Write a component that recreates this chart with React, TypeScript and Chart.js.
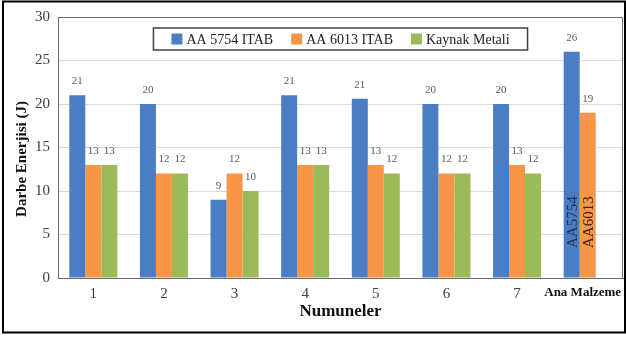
import React, { useEffect, useRef } from "react";
import { Chart, registerables } from "chart.js";

Chart.register(...registerables);

const categories = ["1", "2", "3", "4", "5", "6", "7", "Ana Malzeme"];
const seriesNames = ["AA 5754 ITAB", "AA 6013 ITAB", "Kaynak Metali"];
const aa5754 = [21, 20, 9, 21, 20.6, 20, 20, 26];
const aa6013 = [13, 12, 12, 13, 13, 12, 13, 19];
const kaynak: (number | null)[] = [13, 12, 10, 13, 12, 12, 12, null];
const yTicks = [0, 5, 10, 15, 20, 25, 30];
const innerLabels = ["AA5754", "AA6013"];
const xTitle = "Numuneler";
const yTitle = "Darbe Enerjisi (J)";

const colors = ["#4A7DC4", "#F79646", "#9BBB59"];
const innerTextColors = ["#1B2F55", "#3A2614"];
const SERIF = "'Liberation Serif', 'DejaVu Serif', serif";
const LAST = categories.length - 1;

const decorPlugin = {
  id: "decor",
  afterDatasetsDraw(chart: any) {
    const ctx = chart.ctx;
    const yScale = chart.scales.y;
    chart.data.datasets.forEach((ds: any, di: number) => {
      const meta = chart.getDatasetMeta(di);
      meta.data.forEach((bar: any, i: number) => {
        const v = ds.data[i];
        if (v == null) return;
        ctx.save();
        ctx.fillStyle = "#595959";
        ctx.font = `11px ${SERIF}`;
        ctx.textAlign = "center";
        ctx.textBaseline = "middle";
        ctx.fillText(String(Math.round(v)), bar.x, bar.y - 14);
        ctx.restore();
      });
    });
    // rotated labels inside last category bars
    innerLabels.forEach((txt, di) => {
      const bar = chart.getDatasetMeta(di).data[LAST];
      if (!bar) return;
      const base = yScale.getPixelForValue(0);
      ctx.save();
      ctx.translate(bar.x, base - 30);
      ctx.rotate(-Math.PI / 2);
      ctx.fillStyle = innerTextColors[di];
      ctx.font = `15px ${SERIF}`;
      ctx.textAlign = "left";
      ctx.textBaseline = "middle";
      ctx.fillText(txt, 0, 1);
      ctx.restore();
    });
  },
  afterDraw(chart: any) {
    const ctx = chart.ctx;
    const a = chart.chartArea;
    ctx.save();
    // plot border
    ctx.strokeStyle = "#6b6b6b";
    ctx.lineWidth = 1;
    ctx.strokeRect(a.left + 0.5, a.top + 0.5, a.right - a.left - 1, a.bottom - a.top);

    // last category label (shifted left so it stays inside the frame)
    const xs = chart.scales.x;
    ctx.font = `bold 13px ${SERIF}`;
    ctx.fillStyle = "#111";
    ctx.textAlign = "center";
    ctx.textBaseline = "middle";
    ctx.fillText(categories[LAST], xs.getPixelForValue(LAST) - 5, a.bottom + 15);

    // legend (boxed, inside plot area)
    ctx.font = `14px ${SERIF}`;
    const sq = 11, gapText = 4, gapItem = 18, margin = 18;
    const items = chart.data.datasets.map((ds: any) => ({
      label: ds.label,
      color: ds.backgroundColor,
      w: sq + gapText + ctx.measureText(ds.label).width,
    }));
    const total = items.reduce((s: number, it: any) => s + it.w, 0) + gapItem * (items.length - 1);
    const cx = (a.left + a.right) / 2;
    const boxTop = a.top + 11;
    const boxH = 22;
    const cy = boxTop + boxH / 2;
    let x = cx - total / 2;
    ctx.fillStyle = "#fff";
    ctx.fillRect(x - margin, boxTop, total + margin * 2, boxH);
    ctx.strokeStyle = "#404040";
    ctx.lineWidth = 1.5;
    ctx.strokeRect(x - margin, boxTop, total + margin * 2, boxH);
    ctx.textAlign = "left";
    ctx.textBaseline = "middle";
    items.forEach((it: any) => {
      ctx.fillStyle = it.color;
      ctx.fillRect(x, cy - sq / 2, sq, sq);
      ctx.fillStyle = "#222";
      ctx.fillText(it.label, x + sq + gapText, cy + 1);
      x += it.w + gapItem;
    });

    // y-axis title
    ctx.save();
    ctx.translate(22, 159);
    ctx.rotate(-Math.PI / 2);
    ctx.font = `bold 15px ${SERIF}`;
    ctx.fillStyle = "#111";
    ctx.textAlign = "center";
    ctx.textBaseline = "middle";
    ctx.fillText(yTitle, 0, 0);
    ctx.restore();

    // outer frame
    ctx.strokeStyle = "#000";
    ctx.lineWidth = 2;
    ctx.strokeRect(3, 1.5, 622, 331);
    ctx.restore();
  },
};

export default function App() {
  const ref = useRef<HTMLCanvasElement | null>(null);
  useEffect(() => {
    if (!ref.current) return;
    const data = [aa5754, aa6013, kaynak];
    const chart = new Chart(ref.current, {
      type: "bar",
      data: {
        labels: categories,
        datasets: seriesNames.map((name, i) => ({
          label: name,
          data: data[i] as any,
          backgroundColor: colors[i],
          borderWidth: 0,
          categoryPercentage: 0.68,
          barPercentage: 1,
        })),
      },
      options: {
        responsive: false,
        animation: false,
        layout: { padding: { left: 4, top: 17, right: 3, bottom: 12 } },
        plugins: {
          legend: { display: false },
          tooltip: { enabled: false },
        },
        scales: {
          x: {
            grid: { display: false },
            border: { display: true, color: "#6b6b6b" },
            ticks: {
              autoSkip: false,
              maxRotation: 0,
              minRotation: 0,
              padding: -1,
              color: "#404040",
              font: { family: SERIF, size: 15 },
              callback: (_v: any, i: number) => (i === LAST ? "" : categories[i]),
            },
            title: {
              display: true,
              text: xTitle,
              color: "#111",
              font: { family: SERIF, size: 17, weight: "bold" },
              padding: { top: 0, bottom: 6 },
            },
            afterFit: (s: any) => {
              s.height = 50;
              s.paddingLeft = 0;
              s.paddingRight = 0;
            },
          },
          y: {
            min: 0,
            max: 30,
            grid: { color: "#d9d9d9", drawTicks: false },
            border: { display: true, color: "#6b6b6b" },
            afterBuildTicks: (s: any) => {
              s.ticks = yTicks.map((v) => ({ value: v }));
            },
            ticks: {
              padding: 8,
              color: "#404040",
              font: { family: SERIF, size: 15 },
            },
            title: { display: false },
            afterFit: (s: any) => {
              s.width = 54;
              s.paddingTop = 0;
              s.paddingBottom = 0;
            },
          },
        },
      },
      plugins: [decorPlugin],
    });
    return () => chart.destroy();
  }, []);
  return (
    <div style={{ position: "absolute", left: 0, top: 0, width: 626, height: 340, background: "#fff" }}>
      <canvas ref={ref} width={626} height={340} style={{ display: "block" }} />
    </div>
  );
}
